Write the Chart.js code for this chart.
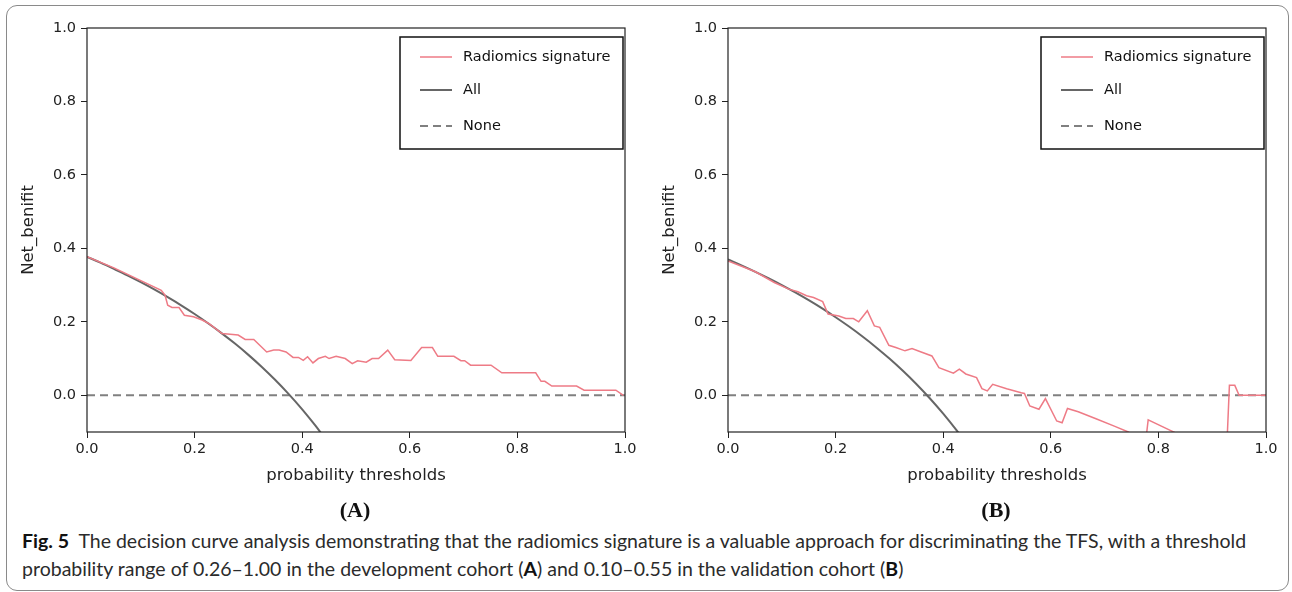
<!DOCTYPE html>
<html>
<head>
<meta charset="utf-8">
<script src="https://cdn.jsdelivr.net/npm/chart.js@4.4.1/dist/chart.umd.min.js"></script>
<style>
  html, body { margin: 0; padding: 0; background: #fff; }
  body { width: 1292px; height: 592px; position: relative; overflow: hidden; }
  .frame { position: absolute; left: 6px; top: 5px; width: 1283px; height: 586px;
           border: 1px solid #8a8a8a; border-radius: 11px; box-sizing: border-box; }
  .box { position: absolute; top: 0; height: 500px; }
  .panel { position: absolute; top: 497px; font-family: "Liberation Serif", serif; line-height: 26px;
           font-weight: bold; font-size: 22px; color: #111; transform: translateX(-50%); }
  .caption { position: absolute; left: 22px; top: 527px; white-space: nowrap;
             font-family: Lato, "Open Sans", sans-serif;
             font-size: 16.5px; line-height: 28px; color: #2b2b2b; }
  .caption .fig { font-weight: bold; margin-right: 5px; color: #111; }
  .caption b { color: #111; }
</style>
</head>
<body>
<div class="frame"></div>
<div class="box" style="left:0;width:641px"><canvas id="chartA"></canvas></div>
<div class="box" style="left:641px;width:646px"><canvas id="chartB"></canvas></div>
<div class="panel" style="left:355px">(A)</div>
<div class="panel" style="left:996px">(B)</div>
<div class="caption" id="caption"><span id="line1"><span class="fig">Fig. 5</span> The decision curve analysis demonstrating that the radiomics signature is a valuable approach for discriminating the TFS, with a threshold</span><br>probability range of 0.26–1.00 in the development cohort (<b>A</b>) and 0.10–0.55 in the validation cohort (<b>B</b>)</div>
<script>
// tick values
const xTicks = [0, 0.2, 0.4, 0.6, 0.8, 1.0];
const yTicks = [0, 0.2, 0.4, 0.6, 0.8, 1.0];
const seriesNames = ['Radiomics signature', 'All', 'None'];

// (A) development cohort
const aRadX = [0, 0.05, 0.1, 0.138, 0.145, 0.15, 0.158, 0.171, 0.181, 0.198, 0.214, 0.227, 0.251, 0.281, 0.294, 0.31, 0.334, 0.347, 0.357, 0.37, 0.383, 0.393, 0.402, 0.41, 0.42, 0.43, 0.443, 0.45, 0.463, 0.48, 0.493, 0.503, 0.519, 0.53, 0.542, 0.559, 0.572, 0.602, 0.622, 0.642, 0.652, 0.682, 0.695, 0.702, 0.713, 0.751, 0.771, 0.834, 0.844, 0.851, 0.864, 0.91, 0.924, 0.983, 0.997];
const aRadY = [0.377, 0.347, 0.312, 0.286, 0.273, 0.245, 0.239, 0.239, 0.218, 0.214, 0.205, 0.195, 0.168, 0.164, 0.152, 0.152, 0.118, 0.123, 0.123, 0.118, 0.103, 0.103, 0.095, 0.105, 0.088, 0.10, 0.106, 0.10, 0.106, 0.10, 0.086, 0.094, 0.09, 0.10, 0.10, 0.123, 0.097, 0.095, 0.13, 0.13, 0.106, 0.106, 0.094, 0.094, 0.082, 0.082, 0.061, 0.061, 0.038, 0.038, 0.025, 0.025, 0.014, 0.014, 0.0];
const allX = [0, 0.025, 0.05, 0.075, 0.1, 0.125, 0.15, 0.175, 0.2, 0.225, 0.25, 0.275, 0.3, 0.325, 0.35, 0.375, 0.4, 0.425, 0.45];
const aAllY = [0.377, 0.361, 0.344, 0.3265, 0.3078, 0.288, 0.267, 0.2449, 0.2213, 0.1961, 0.1693, 0.1407, 0.110, 0.077, 0.0415, 0.0032, -0.0383, -0.0835, -0.1327];

// (B) validation cohort
const bRadX = [0, 0.05, 0.086, 0.113, 0.13, 0.146, 0.159, 0.176, 0.186, 0.206, 0.219, 0.233, 0.243, 0.259, 0.272, 0.282, 0.299, 0.312, 0.329, 0.342, 0.359, 0.379, 0.392, 0.419, 0.43, 0.442, 0.462, 0.472, 0.482, 0.492, 0.518, 0.545, 0.551, 0.561, 0.578, 0.59, 0.611, 0.621, 0.631, 0.651, 0.684, 0.718, 0.744, 0.776, 0.781, 0.824, 0.85, 0.9, 0.926, 0.932, 0.942, 0.95, 1.0];
const bRadY = [0.366, 0.337, 0.307, 0.289, 0.282, 0.271, 0.266, 0.255, 0.221, 0.216, 0.209, 0.209, 0.20, 0.23, 0.189, 0.185, 0.136, 0.13, 0.121, 0.127, 0.118, 0.107, 0.075, 0.06, 0.071, 0.058, 0.048, 0.018, 0.012, 0.03, 0.018, 0.007, 0.005, -0.029, -0.038, -0.009, -0.07, -0.075, -0.036, -0.045, -0.064, -0.084, -0.10, -0.13, -0.067, -0.097, -0.115, -0.15, -0.18, 0.027, 0.027, 0.0, 0.0];
const bAllY = [0.37, 0.3538, 0.3368, 0.3189, 0.30, 0.28, 0.2588, 0.2364, 0.2125, 0.1871, 0.16, 0.131, 0.10, 0.0667, 0.0308, -0.008, -0.05, -0.0957, -0.1455];

const noneX = [0, 1];
const noneY = [0, 0];

const tickFont = { family: 'DejaVu Sans', size: 14.5 };
const titleFont = { family: 'DejaVu Sans', size: 16.5 };

function zip(xs, ys) {
    return xs.map((x, i) => ({ x: x, y: ys[i] }));
}

// khung + chú giải vẽ tay
const framePlugin = {
    id: 'frameLegend',
    afterDatasetsDraw(chart) {
        const { ctx, chartArea: a } = chart;
        ctx.save();
        ctx.strokeStyle = '#222';
        ctx.lineWidth = 1.2;
        ctx.strokeRect(a.left, a.top, a.right - a.left, a.bottom - a.top);

        const bw = 223, bh = 112;
        const bx = a.right - 2 - bw, by = a.top + 9;
        ctx.fillStyle = '#fff';
        ctx.fillRect(bx, by, bw, bh);
        ctx.lineWidth = 1.5;
        ctx.strokeStyle = '#111';
        ctx.strokeRect(bx, by, bw, bh);

        const rows = [20, 53, 89];
        ctx.font = '14.5px "DejaVu Sans"';
        ctx.textBaseline = 'middle';
        chart.data.datasets.forEach((ds, i) => {
            const y = by + rows[i];
            ctx.beginPath();
            ctx.strokeStyle = ds.borderColor;
            ctx.lineWidth = ds.borderWidth;
            ctx.setLineDash(ds.borderDash || []);
            ctx.moveTo(bx + 20, y);
            ctx.lineTo(bx + 52, y);
            ctx.stroke();
            ctx.setLineDash([]);
            ctx.fillStyle = '#111';
            ctx.fillText(ds.label, bx + 63, y);
        });
        ctx.restore();
    }
};

function veBieuDo(id, radX, radY, allY, padRight) {
    const ctx = document.getElementById(id).getContext('2d');
    return new Chart(ctx, {
        type: 'line',
        data: {
            datasets: [
                { label: seriesNames[0], data: zip(radX, radY), borderColor: '#ee7b86', borderWidth: 1.5 },
                { label: seriesNames[1], data: zip(allX, allY), borderColor: '#666666', borderWidth: 2, cubicInterpolationMode: 'monotone' },
                { label: seriesNames[2], data: zip(noneX, noneY), borderColor: '#808080', borderWidth: 2, borderDash: [8, 5] }
            ]
        },
        options: {
            responsive: false,
            animation: false,
            elements: { point: { radius: 0 } },
            layout: { padding: { top: 28, right: padRight, left: 0, bottom: 0 } },
            plugins: { legend: { display: false }, tooltip: { enabled: false } },
            scales: {
                x: {
                    type: 'linear', min: 0, max: 1,
                    afterBuildTicks: s => { s.ticks = xTicks.map(v => ({ value: v })); },
                    afterFit: s => { s.height = 68; },
                    ticks: { font: tickFont, color: '#222', padding: 3, maxRotation: 0,
                             callback: v => v.toFixed(1) },
                    grid: { drawOnChartArea: false, tickLength: 6, color: '#222' },
                    border: { display: false },
                    title: { display: true, text: 'probability thresholds', font: titleFont, color: '#222',
                             padding: { top: 0, bottom: 14 } }
                },
                y: {
                    type: 'linear', min: -0.1, max: 1.0,
                    afterBuildTicks: s => { s.ticks = yTicks.map(v => ({ value: v })); },
                    afterFit: s => { s.width = 87; },
                    ticks: { font: tickFont, color: '#222', padding: 5,
                             callback: v => v.toFixed(1) },
                    grid: { drawOnChartArea: false, tickLength: 6, color: '#222' },
                    border: { display: false },
                    title: { display: true, text: 'Net_benifit', font: titleFont, color: '#222',
                             padding: { top: 19, bottom: 0 } }
                }
            }
        },
        plugins: [framePlugin]
    });
}

document.getElementById('chartA').width = 641;
document.getElementById('chartA').height = 500;
document.getElementById('chartB').width = 646;
document.getElementById('chartB').height = 500;
veBieuDo('chartA', aRadX, aRadY, aAllY, 16);
veBieuDo('chartB', bRadX, bRadY, bAllY, 21);

// co chữ chú thích cho dòng 1 dài ~1226px
const cap = document.getElementById('caption');
const w1 = document.getElementById('line1').getBoundingClientRect().width;
cap.style.fontSize = (16.5 * 1226 / w1).toFixed(2) + 'px';
</script>
</body>
</html>
